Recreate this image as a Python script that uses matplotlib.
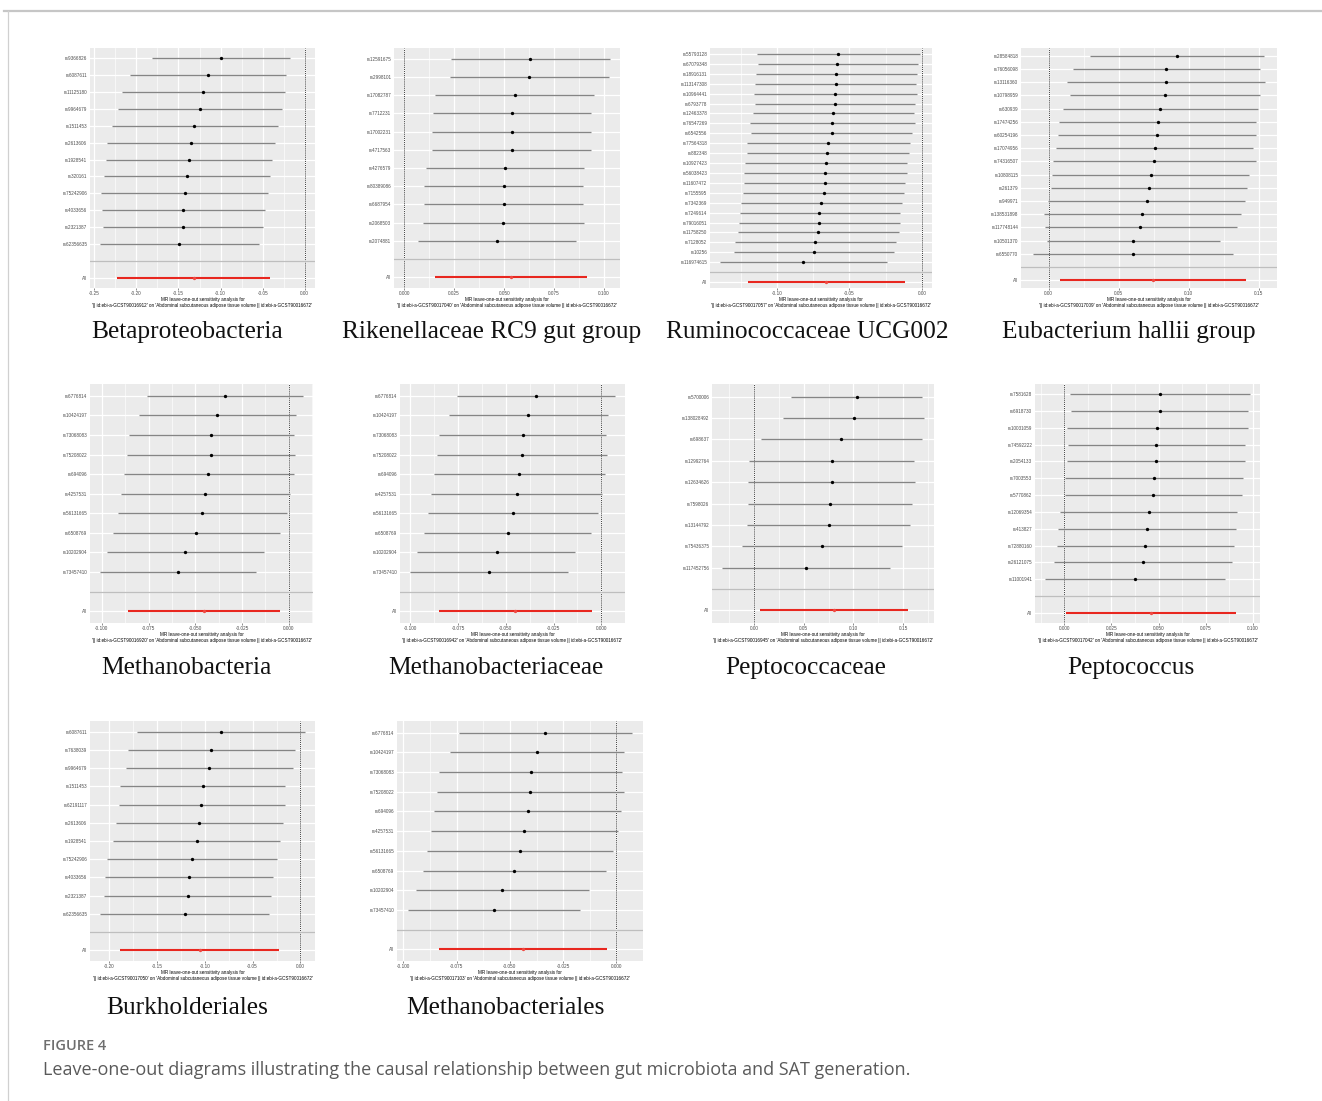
import matplotlib.pyplot as plt
from matplotlib.lines import Line2D
from matplotlib.ticker import MultipleLocator, FuncFormatter

plt.rcParams["font.family"] = ["Liberation Sans", "DejaVu Sans"]

W, H = 1322, 1101

outcome = "Abdominal subcutaneous adipose tissue volume || id:ebi-a-GCST90016672"

# Each SNP list ends with the pooled "All" estimate
betap_snps = ["rs9366826", "rs6087611", "rs11125180", "rs9964679", "rs1511453", "rs2613606",
              "rs1928541", "rs320161", "rs75242906", "rs4033656", "rs2321387", "rs62356635", "All"]
betap_b = [-0.0997, -0.1150, -0.1206, -0.1246, -0.1310, -0.1353, -0.1377, -0.1400, -0.1428,
           -0.1444, -0.1452, -0.1491, -0.1321]
betap_lo = [-0.1816, -0.2077, -0.2172, -0.2223, -0.2290, -0.2346, -0.2365, -0.2380, -0.2417,
            -0.2413, -0.2397, -0.2429, -0.2227]
betap_hi = [-0.0178, -0.0218, -0.0237, -0.0269, -0.0320, -0.0356, -0.0384, -0.0415, -0.0431,
            -0.0475, -0.0498, -0.0546, -0.0407]

rik_snps = ["rs12591675", "rs2998101", "rs17082787", "rs7712231", "rs17002231", "rs4717563",
            "rs4276579", "rs80389086", "rs6687954", "rs2068503", "rs2074881", "All"]
rik_b = [0.0630, 0.0625, 0.0552, 0.0538, 0.0538, 0.0537, 0.0505, 0.0498, 0.0497, 0.0495, 0.0462, 0.0533]
rik_lo = [0.0236, 0.0231, 0.0154, 0.0142, 0.0139, 0.0139, 0.0109, 0.0100, 0.0100, 0.0094, 0.0067, 0.0156]
rik_hi = [0.1028, 0.1023, 0.0948, 0.0935, 0.0936, 0.0935, 0.0900, 0.0895, 0.0895, 0.0898, 0.0858, 0.0913]

rum_snps = ["rs55793128", "rs67079348", "rs18916131", "rs113147308", "rs10964441", "rs6793778",
            "rs12463378", "rs76547269", "rs6542556", "rs77564318", "rs882348", "rs10927423",
            "rs56038423", "rs11607472", "rs7155595", "rs7342369", "rs7249614", "rs79016051",
            "rs11758250", "rs7128052", "rs10256", "rs116974615", "All"]
rum_b = [-0.0577, -0.0582, -0.0591, -0.0595, -0.0598, -0.0600, -0.0611, -0.0618, -0.0623, -0.0646,
         -0.0651, -0.0664, -0.0667, -0.0671, -0.0678, -0.0697, -0.0710, -0.0710, -0.0717, -0.0736,
         -0.0743, -0.0818, -0.0660]
rum_lo = [-0.1136, -0.1131, -0.1143, -0.1149, -0.1159, -0.1149, -0.1163, -0.1186, -0.1175, -0.1205,
          -0.1205, -0.1221, -0.1225, -0.1225, -0.1232, -0.1244, -0.1257, -0.1260, -0.1267, -0.1285,
          -0.1292, -0.1391, -0.1200]
rum_hi = [-0.0016, -0.0028, -0.0037, -0.0039, -0.0034, -0.0046, -0.0055, -0.0048, -0.0069, -0.0085,
          -0.0092, -0.0103, -0.0106, -0.0115, -0.0120, -0.0138, -0.0154, -0.0152, -0.0161, -0.0179,
          -0.0193, -0.0241, -0.0115]

eub_snps = ["rs28584818", "rs76056098", "rs13116360", "rs10798959", "rs630939", "rs17474256",
            "rs60254196", "rs17074956", "rs74316507", "rs10808115", "rs261379", "rs949971",
            "rs138531898", "rs117748144", "rs10501370", "rs6550770", "All"]
eub_b = [0.0918, 0.0838, 0.0838, 0.0828, 0.0797, 0.0778, 0.0771, 0.0757, 0.0755, 0.0729, 0.0717,
         0.0700, 0.0669, 0.0655, 0.0603, 0.0600, 0.0747]
eub_lo = [0.0297, 0.0173, 0.0133, 0.0154, 0.0102, 0.0076, 0.0064, 0.0055, 0.0028, 0.0026, 0.0019,
          -0.0002, -0.0036, -0.0028, -0.0012, -0.0114, 0.0083]
eub_hi = [0.1538, 0.1507, 0.1547, 0.1507, 0.1493, 0.1478, 0.1478, 0.1462, 0.1483, 0.1433, 0.1419,
          0.1400, 0.1376, 0.1341, 0.1220, 0.1317, 0.1412]

methano_snps = ["rs6776814", "rs10424197", "rs73068083", "rs75208022", "rs694096", "rs4257531",
                "rs56131665", "rs6508769", "rs10202904", "rs73457410", "All"]

mbac_b = [-0.0344, -0.0383, -0.0414, -0.0417, -0.0430, -0.0446, -0.0463, -0.0494, -0.0553, -0.0592, -0.0453]
mbac_lo = [-0.0759, -0.0802, -0.0856, -0.0866, -0.0882, -0.0898, -0.0916, -0.0939, -0.0971, -0.1009, -0.0859]
mbac_hi = [0.0075, 0.0039, 0.0029, 0.0034, 0.0025, 0.0007, -0.0012, -0.0048, -0.0132, -0.0175, -0.0048]

mfam_b = [-0.0343, -0.0383, -0.0412, -0.0414, -0.0430, -0.0442, -0.0463, -0.0490, -0.0548, -0.0588, -0.0452]
mfam_lo = [-0.0755, -0.0795, -0.0849, -0.0859, -0.0875, -0.0890, -0.0908, -0.0930, -0.0963, -0.1000, -0.0852]
mfam_hi = [0.0070, 0.0033, 0.0023, 0.0031, 0.0019, 0.0003, -0.0017, -0.0052, -0.0136, -0.0176, -0.0050]

pfam_snps = ["rs5700006", "rs138028492", "rs698637", "rs12992764", "rs12634626", "rs7598026",
             "rs13144792", "rs75436375", "rs117452756", "All"]
pfam_b = [0.1031, 0.1001, 0.0877, 0.0780, 0.0780, 0.0767, 0.0754, 0.0683, 0.0526, 0.0804]
pfam_lo = [0.0375, 0.0295, 0.0067, -0.0054, -0.0057, -0.0064, -0.0070, -0.0117, -0.0321, 0.0057]
pfam_hi = [0.1688, 0.1708, 0.1691, 0.1611, 0.1614, 0.1591, 0.1571, 0.1487, 0.1370, 0.1547]

pgen_snps = ["rs7581628", "rs6918730", "rs10031059", "rs74592222", "rs2054133", "rs7003553",
             "rs5770862", "rs12069354", "rs413827", "rs72880160", "rs26121075", "rs11001941", "All"]
pgen_b = [0.0508, 0.0506, 0.0494, 0.0487, 0.0485, 0.0476, 0.0471, 0.0448, 0.0437, 0.0428, 0.0418, 0.0375, 0.0460]
pgen_lo = [0.0032, 0.0035, 0.0016, 0.0018, 0.0016, 0.0005, 0.0002, -0.0021, -0.0035, -0.0041, -0.0053, -0.0101, 0.0011]
pgen_hi = [0.0984, 0.0977, 0.0973, 0.0959, 0.0959, 0.0950, 0.0943, 0.0917, 0.0910, 0.0899, 0.0888, 0.0855, 0.0913]

burk_snps = ["rs6087611", "rs7638039", "rs9964679", "rs1511453", "rs62191117", "rs2613606",
             "rs1928541", "rs75242906", "rs4033656", "rs2321387", "rs62356635", "All"]
burk_b = [-0.0832, -0.0934, -0.0955, -0.1021, -0.1038, -0.1059, -0.1084, -0.1133, -0.1161, -0.1178, -0.1210, -0.1052]
burk_lo = [-0.1710, -0.1804, -0.1818, -0.1885, -0.1899, -0.1930, -0.1958, -0.2021, -0.2042, -0.2052, -0.2091, -0.1888]
burk_hi = [0.0045, -0.0059, -0.0080, -0.0157, -0.0157, -0.0185, -0.0210, -0.0245, -0.0287, -0.0311, -0.0332, -0.0220]

mord_b = [-0.0333, -0.0372, -0.0402, -0.0404, -0.0416, -0.0433, -0.0451, -0.0479, -0.0535, -0.0574, -0.0440]
mord_lo = [-0.0739, -0.0779, -0.0831, -0.0840, -0.0856, -0.0872, -0.0887, -0.0909, -0.0942, -0.0977, -0.0834]
mord_hi = [0.0072, 0.0036, 0.0027, 0.0033, 0.0022, 0.0005, -0.0014, -0.0049, -0.0130, -0.0169, -0.0045]

# title, exposure id, snps, b, lo, hi, tick step, panel box (px), title centre x, title baseline y
panels = [
    ("Betaproteobacteria", "GCST90016912", betap_snps, betap_b, betap_lo, betap_hi, 0.05, (90, 48, 315, 288), 187, 338),
    ("Rikenellaceae RC9 gut group", "GCST90017040", rik_snps, rik_b, rik_lo, rik_hi, 0.025, (394, 48, 620, 288), 492, 338),
    ("Ruminococcaceae UCG002", "GCST90017057", rum_snps, rum_b, rum_lo, rum_hi, 0.05, (710, 48, 932, 288), 807, 338),
    ("Eubacterium hallii group", "GCST90017009", eub_snps, eub_b, eub_lo, eub_hi, 0.05, (1021, 48, 1277, 288), 1129, 338),
    ("Methanobacteria", "GCST90016920", methano_snps, mbac_b, mbac_lo, mbac_hi, 0.025, (90, 384, 313, 623), 186, 674),
    ("Methanobacteriaceae", "GCST90016942", methano_snps, mfam_b, mfam_lo, mfam_hi, 0.025, (400, 384, 625, 623), 496, 674),
    ("Peptococcaceae", "GCST90016945", pfam_snps, pfam_b, pfam_lo, pfam_hi, 0.05, (712, 384, 934, 623), 806, 674),
    ("Peptococcus", "GCST90017042", pgen_snps, pgen_b, pgen_lo, pgen_hi, 0.025, (1035, 384, 1260, 623), 1131, 674),
    ("Burkholderiales", "GCST90017050", burk_snps, burk_b, burk_lo, burk_hi, 0.05, (90, 721, 315, 961), 187, 1014),
    ("Methanobacteriales", "GCST90017103", methano_snps, mord_b, mord_lo, mord_hi, 0.025, (397, 721, 643, 961), 505, 1014),
]

fig = plt.figure(figsize=(W / 100, H / 100), dpi=100)


def draw_panel(title, exp_id, snps, b, lo, hi, step, box, tx, ty):
    x0, y0, x1, y1 = box
    ax = fig.add_axes([x0 / W, 1 - y1 / H, (x1 - x0) / W, (y1 - y0) / H])
    ax.set_facecolor("#ebebeb")
    for s in ax.spines.values():
        s.set_visible(False)

    n = len(snps) - 1
    # SNPs top to bottom, an empty row at 2, "All" at 1
    ypos = list(range(n + 2, 2, -1)) + [1]

    # x range padded by 5% like a ggplot continuous scale (0 line included)
    xmin = min(min(lo), 0)
    xmax = max(max(hi), 0)
    pad = 0.05 * (xmax - xmin)
    ax.set_xlim(xmin - pad, xmax + pad)
    ax.set_ylim(0.4, n + 2.6)

    dec = len(str(step).split(".")[1])
    ax.xaxis.set_major_locator(MultipleLocator(step))
    ax.xaxis.set_minor_locator(MultipleLocator(step / 2))
    ax.xaxis.set_major_formatter(FuncFormatter(lambda v, p: f"{round(v, dec) + 0.0:.{dec}f}"))
    ax.set_yticks(ypos)
    ax.set_yticklabels(snps)
    ax.set_yticks([2], minor=True)

    ax.grid(which="major", color="white", lw=0.9)
    ax.grid(which="minor", axis="x", color="white", lw=0.45)
    ax.set_axisbelow(True)
    ax.tick_params(axis="x", which="major", length=1.3, width=0.4, color="#333333",
                   labelsize=3.4, labelcolor="#4d4d4d", pad=1.0)
    ax.tick_params(axis="y", which="major", length=0, labelsize=3.3, labelcolor="#4d4d4d", pad=2)
    ax.tick_params(which="minor", length=0)

    ax.axvline(0, color="black", ls=(0, (1, 1.3)), lw=0.6, zorder=1)
    ax.axhline(2, color="#bebebe", lw=0.9, zorder=1)
    ax.hlines(ypos[:-1], lo[:-1], hi[:-1], color="#858585", lw=0.95, zorder=2)
    ax.hlines(ypos[-1:], lo[-1:], hi[-1:], color="#e8271f", lw=1.5, zorder=2)
    ax.plot(b[:-1], ypos[:-1], "o", color="black", ms=2.4, mec="none", zorder=3)
    ax.plot(b[-1:], ypos[-1:], "o", color="#ef4a43", ms=2.4, mec="none", zorder=3)

    ax.set_xlabel("MR leave-one-out sensitivity analysis for\n"
                  f"'|| id:ebi-a-{exp_id}' on '{outcome}'",
                  fontsize=3.35, color="black", labelpad=0.8, linespacing=1.05)

    fig.text(tx / W, 1 - ty / H, title, ha="center", va="baseline",
             family="Liberation Serif", fontsize=18.3, color="#111111")


for p in panels:
    draw_panel(*p)

# page frame lines
fig.add_artist(Line2D([4 / W, 1], [1 - 11 / H, 1 - 11 / H], color="#c6c6c6", lw=1.6))
fig.add_artist(Line2D([8 / W, 8 / W], [0, 1 - 11 / H], color="#d0d0d0", lw=0.9))

fig.text(43 / W, 1 - 1046 / H, "FIGURE 4", ha="left", va="center",
         family="Open Sans", fontsize=10.5, fontweight="semibold", color="#6e6e6e")
fig.text(43 / W, 1 - 1070 / H,
         "Leave-one-out diagrams illustrating the causal relationship between gut microbiota and SAT generation.",
         ha="left", va="center", family="Open Sans", fontsize=13, color="#5a5a5a")

fig.savefig("out.png", dpi=100, facecolor="white")
